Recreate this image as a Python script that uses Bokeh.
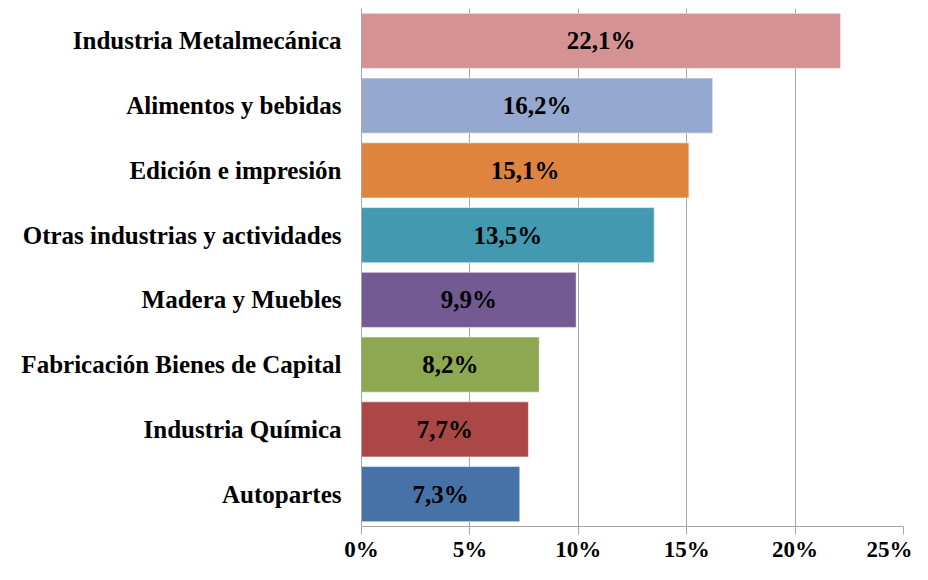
from bokeh.plotting import figure
from bokeh.models import FactorRange, ColumnDataSource, FixedTicker, Range1d
from bokeh.core.properties import value
from bokeh.embed import file_html
from bokeh.resources import INLINE

categories = ["Industria Metalmecánica", "Alimentos y bebidas", "Edición e impresión",
              "Otras industrias y actividades", "Madera y Muebles",
              "Fabricación Bienes de Capital", "Industria Química", "Autopartes"]
values = [22.1, 16.2, 15.1, 13.5, 9.9, 8.2, 7.7, 7.3]
value_labels = ["22,1%", "16,2%", "15,1%", "13,5%", "9,9%", "8,2%", "7,7%", "7,3%"]
colors = ["#D49392", "#95A9D0", "#DE843F", "#4399B0", "#735A92", "#8EA851", "#AB4746", "#4672A8"]
ticks = [0, 5, 10, 15, 20, 25]
tick_labels = ["0%", "5%", "10%", "15%", "20%", "25%"]

FONT = "Liberation Serif"

src = ColumnDataSource(dict(cat=categories, val=values, half=[v / 2 for v in values],
                            lab=value_labels, col=colors))

p = figure(width=912, height=564, output_backend="svg", toolbar_location=None,
           y_range=FactorRange(factors=list(reversed(categories))),
           x_range=Range1d(0, 25))
p.min_border_left = 361
p.min_border_right = 9
p.min_border_top = 8
p.min_border_bottom = 32
p.outline_line_color = None

p.hbar(y="cat", right="val", left=0, height=0.85, color="col", line_color="white",
       line_alpha=0.5, line_width=1, source=src)
p.text(x="half", y="cat", text="lab", source=src, text_align="center",
       text_baseline="middle", text_font=value(FONT), text_font_style="bold",
       text_font_size="25px", text_color="black")

p.xaxis.ticker = FixedTicker(ticks=ticks)
p.xaxis.major_label_overrides = {t: l for t, l in zip(ticks, tick_labels)}
p.xaxis.major_label_text_font = FONT
p.xaxis.major_label_text_font_style = "bold"
p.xaxis.major_label_text_font_size = "23px"
p.xaxis.major_label_text_color = "black"
p.xaxis.axis_line_color = "#A6A6A6"
p.xaxis.major_tick_line_color = "#A6A6A6"
p.xaxis.major_tick_out = 8
p.xaxis.major_tick_in = 0
p.xaxis.minor_tick_line_color = None
p.xaxis.major_label_standoff = 2

p.yaxis.major_label_text_font = FONT
p.yaxis.major_label_text_font_style = "bold"
p.yaxis.major_label_text_font_size = "25px"
p.yaxis.major_label_text_color = "black"
p.yaxis.axis_line_color = "#A6A6A6"
p.yaxis.major_tick_line_color = None
p.yaxis.major_tick_out = 0
p.yaxis.major_label_standoff = 20

p.xgrid.grid_line_color = "#A6A6A6"
p.xgrid.grid_line_width = 1
p.ygrid.grid_line_color = None

open("out.html", "w").write(file_html(p, INLINE))
